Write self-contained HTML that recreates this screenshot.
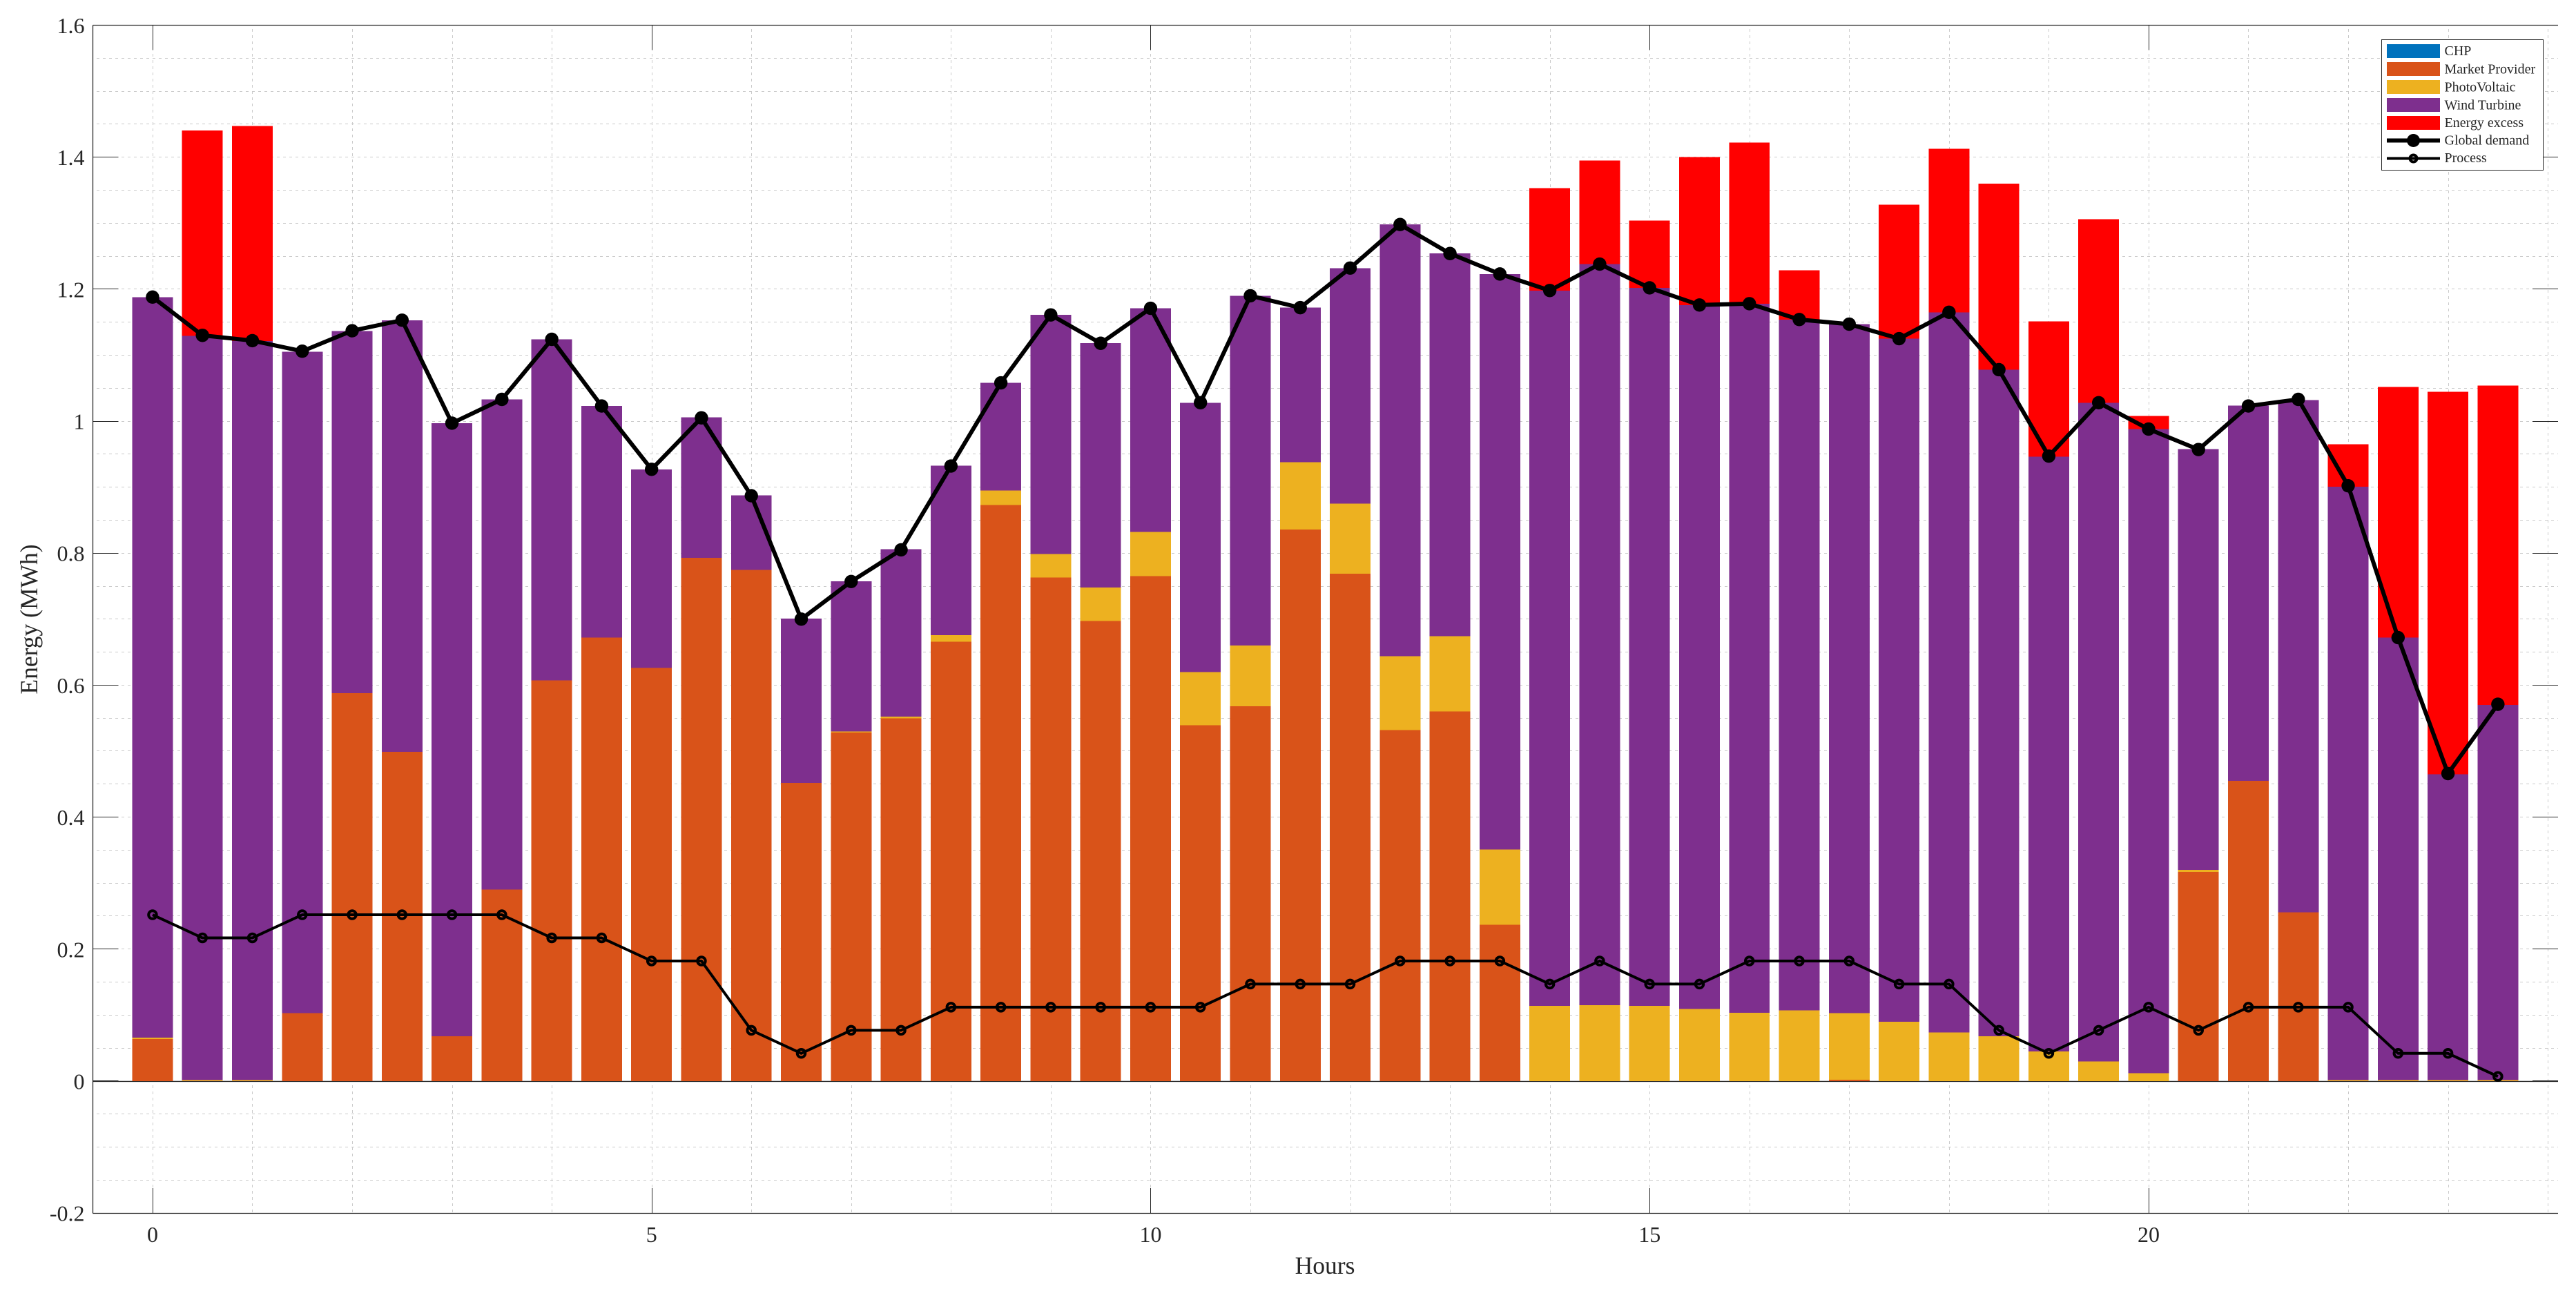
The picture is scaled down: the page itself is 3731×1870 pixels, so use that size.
<!DOCTYPE html>
<html lang="en">
<head>
<meta charset="utf-8">
<title>Energy by source over 24 hours</title>
<style>
html,body{margin:0;padding:0;background:#fff;}
svg{display:block;}
text{font-family:"Liberation Serif","Times New Roman",serif;fill:#262626;}
</style>
</head>
<body>
<svg id="chart" xmlns="http://www.w3.org/2000/svg" width="3731" height="1870" viewBox="0 0 3731 1870">
  <rect x="0" y="0" width="3731" height="1870" fill="#ffffff"/>
  <g id="grid"></g>
  <g id="axes"></g>
  <g id="bars" shape-rendering="crispEdges"></g>
  <g id="lines"></g>
  <g id="tick-labels"></g>
  <text x="1919" y="1845" font-size="35.5" text-anchor="middle">Hours</text>
  <text transform="translate(54,897) rotate(-90)" font-size="35.5" text-anchor="middle">Energy (MWh)</text>
  <g>
    <rect x="3449.5" y="57.5" width="234" height="189" fill="#ffffff" stroke="#262626" stroke-width="1" shape-rendering="crispEdges"/>
    <g>
      <rect x="3457" y="64" width="77" height="20" fill="#0072BD"/>
      <text x="3540.5" y="80" font-size="20">CHP</text>
    </g>
    <g>
      <rect x="3457" y="90" width="77" height="20" fill="#D95319"/>
      <text x="3540.5" y="106.5" font-size="20">Market Provider</text>
    </g>
    <g>
      <rect x="3457" y="116" width="77" height="20" fill="#EDB120"/>
      <text x="3540.5" y="132.5" font-size="20">PhotoVoltaic</text>
    </g>
    <g>
      <rect x="3457" y="142" width="77" height="20" fill="#7E2F8E"/>
      <text x="3540.5" y="158.5" font-size="20">Wind Turbine</text>
    </g>
    <g>
      <rect x="3457" y="168" width="77" height="20" fill="#FF0000"/>
      <text x="3540.5" y="184" font-size="20">Energy excess</text>
    </g>
    <g>
      <line x1="3457" y1="203.5" x2="3534" y2="203.5" stroke="#000" stroke-width="6"/>
      <circle cx="3495.5" cy="203.5" r="9.5" fill="#000"/>
      <text x="3540.5" y="209.5" font-size="20">Global demand</text>
    </g>
    <g>
      <line x1="3457" y1="229.5" x2="3534" y2="229.5" stroke="#000" stroke-width="4"/>
      <circle cx="3495.5" cy="229.5" r="5" fill="none" stroke="#000" stroke-width="4"/>
      <text x="3540.5" y="235" font-size="20">Process</text>
    </g>
  </g>
</svg>
<script>
const hours = [0,0.5,1,1.5,2,2.5,3,3.5,4,4.5,5,5.5,6,6.5,7,7.5,8,8.5,9,9.5,10,10.5,11,11.5,12,12.5,13,13.5,14,14.5,15,15.5,16,16.5,17,17.5,18,18.5,19,19.5,20,20.5,21,21.5,22,22.5,23,23.5];
const chp = [0,0,0,0,0,0,0,0,0,0,0,0,0,0,0,0,0,0,0,0,0,0,0,0,0,0,0,0,0,0,0,0,0,0,0,0,0,0,0,0,0,0,0,0,0,0,0,0];
const marketProvider = [0.064,0,0,0.103,0.588,0.499,0.068,0.29,0.607,0.672,0.626,0.793,0.7745,0.452,0.528,0.5495,0.6657,0.873,0.763,0.697,0.765,0.539,0.568,0.836,0.769,0.532,0.56,0.2367,0,0,0,0,0,0,0.002,0,0,0,0,0,0,0.317,0.455,0.2556,0,0,0,0];
const photoVoltaic = [0.002,0.0015,0.0015,0,0,0,0,0,0,0,0,0,0,0,0.002,0.003,0.0103,0.0218,0.0355,0.051,0.067,0.081,0.092,0.102,0.106,0.112,0.114,0.114,0.114,0.115,0.114,0.109,0.1037,0.107,0.101,0.09,0.0736,0.068,0.045,0.03,0.012,0.003,0,0,0.0015,0.0015,0.0015,0.0015];
const windTurbine = [1.122,1.1275,1.12,1.002,0.5485,0.654,0.929,0.743,0.517,0.351,0.301,0.213,0.113,0.249,0.2275,0.2535,0.2564,0.1632,0.3625,0.37,0.339,0.408,0.53,0.234,0.357,0.654,0.58,0.8723,1.084,1.123,1.088,1.067,1.0743,1.047,1.044,1.035,1.0914,1.01,0.9014,0.9976,0.976,0.6375,0.5685,0.7764,0.899,0.6705,0.4635,0.5685];
const energyExcess = [0,0.3115,0.326,0,0,0,0,0,0,0,0,0,0,0,0,0,0,0,0,0,0,0,0,0,0,0,0,0,0.155,0.157,0.102,0.224,0.244,0.0745,0,0.203,0.2475,0.282,0.2046,0.2782,0.0198,0,0,0,0.0644,0.3798,0.5797,0.4837];
const globalDemand = [1.188,1.13,1.122,1.106,1.137,1.153,0.997,1.033,1.124,1.023,0.927,1.005,0.887,0.7,0.757,0.805,0.932,1.058,1.161,1.118,1.171,1.028,1.19,1.172,1.232,1.298,1.254,1.223,1.198,1.238,1.202,1.176,1.178,1.154,1.147,1.125,1.165,1.078,0.947,1.028,0.988,0.957,1.023,1.033,0.902,0.672,0.466,0.571];
const processLoad = [0.252,0.217,0.217,0.252,0.252,0.252,0.252,0.252,0.217,0.217,0.182,0.182,0.077,0.042,0.077,0.077,0.112,0.112,0.112,0.112,0.112,0.112,0.147,0.147,0.147,0.182,0.182,0.182,0.147,0.182,0.147,0.147,0.182,0.182,0.182,0.147,0.147,0.077,0.042,0.077,0.112,0.077,0.112,0.112,0.112,0.042,0.042,0.007];
const xTickValues = [0,5,10,15,20];
const xTickLabels = ['0','5','10','15','20'];
const yTickValues = [-0.2,0,0.2,0.4,0.6,0.8,1,1.2,1.4,1.6];
const yTickLabels = ['-0.2','0','0.2','0.4','0.6','0.8','1','1.2','1.4','1.6'];
const xGridValues = [0,1,2,3,4,5,6,7,8,9,10,11,12,13,14,15,16,17,18,19,20,21,22,23,24];
const yGridValues = [-0.15,-0.1,-0.05,0.05,0.1,0.15,0.2,0.25,0.3,0.35,0.4,0.45,0.5,0.55,0.6,0.65,0.7,0.75,0.8,0.85,0.9,0.95,1,1.05,1.1,1.15,1.2,1.25,1.3,1.35,1.4,1.45,1.5,1.55];

const plotLeft = 134.5, plotRight = 3705, plotTop = 36.5, plotBottom = 1757;
const xDomainMin = -0.598, xPixelsPerHour = 144.55;
const yDomainMax = 1.6, yPixelsPerUnit = 955.9;
const barHalfWidth = 0.204;
const SVG_NS = 'http://www.w3.org/2000/svg';

function xScale(h){ return plotLeft + (h - xDomainMin) * xPixelsPerHour; }
function yScale(v){ return plotTop + (yDomainMax - v) * yPixelsPerUnit; }
function make(tag, parent){
  const el = document.createElementNS(SVG_NS, tag);
  parent.appendChild(el);
  return el;
}
function setLine(el, x1, y1, x2, y2, color, width){
  el.setAttribute('x1', x1);
  el.setAttribute('y1', y1);
  el.setAttribute('x2', x2);
  el.setAttribute('y2', y2);
  el.setAttribute('stroke', color);
  el.setAttribute('stroke-width', width);
}

const gridGroup = document.getElementById('grid');
const axesGroup = document.getElementById('axes');
const barsGroup = document.getElementById('bars');
const linesGroup = document.getElementById('lines');
const labelsGroup = document.getElementById('tick-labels');

/* grid */
xGridValues.forEach(function(h){
  const x = Math.round(xScale(h)) + 0.5;
  const el = make('line', gridGroup);
  setLine(el, x, plotTop + 5.5, x, plotBottom, '#cacaca', 1);
  el.setAttribute('stroke-dasharray', '4 5');
  el.setAttribute('shape-rendering', 'crispEdges');
  
  
});
yGridValues.forEach(function(v){
  const y = Math.floor(yScale(v)) + 0.5;
  const el = make('line', gridGroup);
  setLine(el, plotLeft + 5.5, y, plotRight, y, '#cacaca', 1);
  el.setAttribute('stroke-dasharray', '4 5');
  el.setAttribute('shape-rendering', 'crispEdges');
  
  
});

/* axes */
const leftAxis = make('line', axesGroup);
setLine(leftAxis, plotLeft, plotTop, plotLeft, plotBottom + 0.5, '#262626', 1.3);


const topAxis = make('line', axesGroup);
setLine(topAxis, plotLeft, plotTop, plotRight, plotTop, '#262626', 1.3);


const bottomAxis = make('line', axesGroup);
setLine(bottomAxis, plotLeft, plotBottom + 0.5, plotRight, plotBottom + 0.5, '#262626', 1.3);


const zeroLine = make('line', axesGroup);
setLine(zeroLine, plotLeft, yScale(0) + 0.5, plotRight, yScale(0) + 0.5, '#262626', 1.3);



/* ticks and labels */
xTickValues.forEach(function(h, i){
  const x = Math.round(xScale(h)) + 0.5;
  const bottomTick = make('line', axesGroup);
  setLine(bottomTick, x, plotBottom + 0.5, x, plotBottom - 36, '#262626', 1);
  
  
  const topTick = make('line', axesGroup);
  setLine(topTick, x, plotTop, x, plotTop + 36, '#262626', 1);
  
  
  const label = make('text', labelsGroup);
  label.setAttribute('x', xScale(h));
  label.setAttribute('y', 1799);
  label.setAttribute('font-size', '32');
  label.setAttribute('text-anchor', 'middle');
  label.textContent = xTickLabels[i];
  
  
});
yTickValues.forEach(function(v, i){
  const y = Math.floor(yScale(v)) + 0.5;
  const leftTick = make('line', axesGroup);
  setLine(leftTick, plotLeft, y, plotLeft + 37, y, '#262626', 1);
  
  
  const rightTick = make('line', axesGroup);
  setLine(rightTick, plotRight - 37, y, plotRight, y, '#262626', 1);
  
  
  const label = make('text', labelsGroup);
  label.setAttribute('x', 122.5);
  label.setAttribute('y', yScale(v) + 11.5);
  label.setAttribute('font-size', '32');
  label.setAttribute('text-anchor', 'end');
  label.textContent = yTickLabels[i];
  
  
});

/* stacked bars */
function drawStack(values, color, name, bases){
  values.forEach(function(v, i){
    const h = hours[i];
    const rect = make('rect', barsGroup);
    const x0 = xScale(h - barHalfWidth);
    const x1 = xScale(h + barHalfWidth);
    const yTop = yScale(bases[i] + v);
    const yBase = yScale(bases[i]);
    rect.setAttribute('x', x0);
    rect.setAttribute('y', yTop);
    rect.setAttribute('width', x1 - x0);
    rect.setAttribute('height', Math.max(0, yBase - yTop));
    rect.setAttribute('fill', color);
    
    
    bases[i] += v;
  });
}
const stackBase = hours.map(function(){ return 0; });
drawStack(chp, '#0072BD', 'bar-chp', stackBase);
drawStack(marketProvider, '#D95319', 'bar-market-provider', stackBase);
drawStack(photoVoltaic, '#EDB120', 'bar-photovoltaic', stackBase);
drawStack(windTurbine, '#7E2F8E', 'bar-wind-turbine', stackBase);
drawStack(energyExcess, '#FF0000', 'bar-energy-excess', stackBase);

/* line series */
function pointsOf(values){
  return values.map(function(v, i){ return xScale(hours[i]) + ',' + yScale(v); }).join(' ');
}
const demandLine = make('polyline', linesGroup);
demandLine.setAttribute('points', pointsOf(globalDemand));
demandLine.setAttribute('fill', 'none');
demandLine.setAttribute('stroke', '#000');
demandLine.setAttribute('stroke-width', '6');
demandLine.setAttribute('stroke-linejoin', 'round');


globalDemand.forEach(function(v, i){
  const dot = make('circle', linesGroup);
  dot.setAttribute('cx', xScale(hours[i]));
  dot.setAttribute('cy', yScale(v));
  dot.setAttribute('r', '9.7');
  dot.setAttribute('fill', '#000');
  
  
});
const processPolyline = make('polyline', linesGroup);
processPolyline.setAttribute('points', pointsOf(processLoad));
processPolyline.setAttribute('fill', 'none');
processPolyline.setAttribute('stroke', '#000');
processPolyline.setAttribute('stroke-width', '4');
processPolyline.setAttribute('stroke-linejoin', 'round');


processLoad.forEach(function(v, i){
  const ring = make('circle', linesGroup);
  ring.setAttribute('cx', xScale(hours[i]));
  ring.setAttribute('cy', yScale(v));
  ring.setAttribute('r', '5.75');
  ring.setAttribute('fill', 'none');
  ring.setAttribute('stroke', '#000');
  ring.setAttribute('stroke-width', '4');
  
  
});
</script>
</body>
</html>
